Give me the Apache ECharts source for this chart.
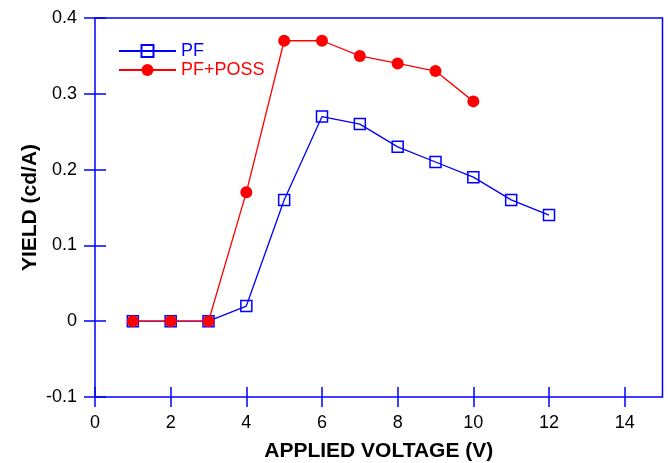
<!DOCTYPE html>
<html><head><meta charset="utf-8">
<script src="https://cdn.jsdelivr.net/npm/echarts@6/dist/echarts.min.js"></script>
<style>html,body{margin:0;padding:0;background:#fff}#c{width:668px;height:463px}</style>
</head><body><div id="c"></div>
<script>
const pfX = [1,2,3,4,5,6,7,8,9,10,11,12];
const pfY = [0,0,0,0.02,0.16,0.27,0.26,0.23,0.21,0.19,0.16,0.14];
const possX = [1,2,3,4,5,6,7,8,9,10];
const possY = [0,0,0,0.17,0.37,0.37,0.35,0.34,0.33,0.29];
const xTicks = [0,2,4,6,8,10,12,14];
const yTicks = [-0.1,0,0.1,0.2,0.3,0.4];

const BLUE = '#0000ff', RED = '#ff0000';
const font = 'Liberation Sans, Arial, sans-serif';
const chart = echarts.init(document.getElementById('c'));
chart.setOption({
  animation:false,
  grid:{left:95, top:18, right:5.5, bottom:66, containLabel:false, outerBoundsMode:'none',
        show:true, borderColor:BLUE, borderWidth:1.5, backgroundColor:'transparent'},
  legend:{
    orient:'vertical', left:113, top:37, itemWidth:57, itemHeight:15, itemGap:1,
    textStyle:{fontFamily:font, fontSize:18},
    data:[{name:'PF', textStyle:{color:BLUE}}, {name:'PF+POSS', textStyle:{color:RED}}]
  },
  xAxis:{
    type:'value', min:0, max:15, interval:2, position:'bottom', offset:-10,
    axisLine:{show:false, onZero:false},
    splitLine:{show:false},
    name:'APPLIED VOLTAGE (V)', nameLocation:'middle', nameGap:54, nameMoveOverlap:false,
    nameTextStyle:{fontFamily:font, fontSize:21, fontWeight:'bold', color:'#000'},
    axisTick:{show:true, inside:false, length:20, lineStyle:{color:BLUE, width:1.5}},
    axisLabel:{margin:27, fontFamily:font, fontSize:18, color:'#000', showMaxLabel:false,
      formatter:v => xTicks.includes(v) ? String(v) : ''}
  },
  yAxis:{
    type:'value', min:-0.1, max:0.4, interval:0.1, position:'left', offset:-11,
    axisLine:{show:false, onZero:false},
    splitLine:{show:false},
    name:'YIELD (cd/A)', nameLocation:'middle', nameGap:65, nameRotate:90, nameMoveOverlap:false,
    nameTextStyle:{fontFamily:font, fontSize:21, fontWeight:'bold', color:'#000'},
    axisTick:{show:true, inside:false, length:22, lineStyle:{color:BLUE, width:1.5}},
    axisLabel:{margin:29, fontFamily:font, fontSize:18, color:'#000',
      formatter:v => { const r = Math.round(v*10)/10; return yTicks.includes(r) ? String(r) : ''; }}
  },
  series:[
    {name:'PF', type:'line',
     data:pfX.map((x,i)=>[x,pfY[i]]),
     symbol:'rect', symbolSize:11, showAllSymbol:true,
     lineStyle:{color:BLUE, width:1.3},
     itemStyle:{color:'rgba(255,255,255,0)', borderColor:BLUE, borderWidth:1.5}},
    {name:'PF+POSS', type:'line',
     data:possX.map((x,i)=>[x,possY[i]]),
     symbol:'circle', symbolSize:12, showAllSymbol:true,
     lineStyle:{color:RED, width:1.3},
     itemStyle:{color:RED, borderColor:RED, borderWidth:0}}
  ]
});
</script></body></html>
